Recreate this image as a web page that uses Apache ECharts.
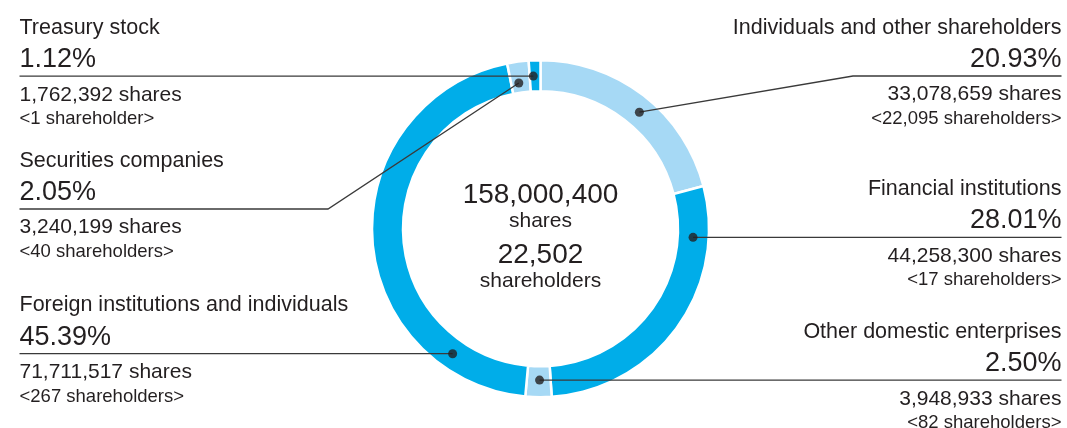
<!DOCTYPE html>
<html>
<head>
<meta charset="utf-8">
<script src="https://cdn.jsdelivr.net/npm/echarts@6/dist/echarts.min.js"></script>
<style>
  html, body { margin: 0; padding: 0; background: #fff; }
  #chart { width: 1067px; height: 428px; }
</style>
</head>
<body>
<div id="chart"></div>
<script>
// slices in drawing order, clockwise from 12 o'clock
var categories = ['Individuals and other shareholders', 'Financial institutions', 'Other domestic enterprises',
    'Foreign institutions and individuals', 'Securities companies', 'Treasury stock'];
var percents = [20.93, 28.01, 2.50, 45.39, 2.05, 1.12];
var shares = [33078659, 44258300, 3948933, 71711517, 3240199, 1762392];
var holders = [22095, 17, 82, 267, 40, 1];
var totalShares = '158,000,400';
var totalHolders = '22,502';

// where each leader line leaves the ring (percent of the circle, radius px) and where its label sits
var anchorPct = [11.2, 25.9, 50.1, 59.75, 97.65, 99.25];
var anchorR = [152.8, 152.8, 151.4, 152.8, 147.3, 152.8];
var labelSide = ['right', 'right', 'right', 'left', 'left', 'left'];
var elbows = [[853, 76], null, null, null, [328, 209], null];

var CX = 540.5, CY = 228.7, R_IN = 137.5, R_OUT = 168.5;
var LEFT_X = 19.5, RIGHT_X = 1061.5;
var DARK = '#00ade9', LIGHT = '#a6d9f5', INK = '#231f20';
var FONT = '"Helvetica Neue", Helvetica, Arial, "Liberation Sans", sans-serif';

function fmt(n) {
    return String(n).replace(/\B(?=(\d{3})+(?!\d))/g, ',');
}

function dotPos(i) {
    var a = anchorPct[i] / 100 * Math.PI * 2;
    return [CX + Math.sin(a) * anchorR[i], CY - Math.cos(a) * anchorR[i]];
}

// ring itself, no labels
var ringData = categories.map(function (name, i) {
    return { name: name, value: percents[i], itemStyle: { color: i % 2 === 0 ? LIGHT : DARK } };
});
// same slices again, invisible, only to carry labels + leader lines above the ring
var labelData = categories.map(function (name, i) {
    return { name: name, value: percents[i], label: { align: labelSide[i] } };
});

var chart = echarts.init(document.getElementById('chart'));
chart.setOption({
    animation: false,
    polar: { center: [CX, CY], radius: R_OUT },
    angleAxis: { type: 'value', min: 0, max: 100, startAngle: 90, show: false },
    radiusAxis: { type: 'value', min: 0, max: R_OUT, show: false },
    graphic: [
        { type: 'text', x: CX, y: 195, style: { text: totalShares, font: '28px ' + FONT, fill: INK, align: 'center', verticalAlign: 'middle' } },
        { type: 'text', x: CX, y: 221.5, style: { text: 'shares', font: '21px ' + FONT, fill: INK, align: 'center', verticalAlign: 'middle' } },
        { type: 'text', x: CX, y: 255, style: { text: totalHolders, font: '28px ' + FONT, fill: INK, align: 'center', verticalAlign: 'middle' } },
        { type: 'text', x: CX, y: 281.5, style: { text: 'shareholders', font: '21px ' + FONT, fill: INK, align: 'center', verticalAlign: 'middle' } }
    ],
    series: [{
        type: 'pie',
        center: [CX, CY],
        radius: [R_IN, R_OUT],
        startAngle: 90,
        clockwise: true,
        silent: true,
        z: 2,
        itemStyle: { borderColor: '#fff', borderWidth: 2.5 },
        label: { show: false },
        labelLine: { show: false },
        data: ringData
    }, {
        type: 'pie',
        center: [CX, CY],
        radius: [R_IN, R_OUT],
        startAngle: 90,
        clockwise: true,
        avoidLabelOverlap: false,
        silent: true,
        z: 4,
        itemStyle: { color: 'rgba(0,0,0,0)', borderWidth: 0 },
        label: {
            show: true,
            position: 'outside',
            color: INK,
            fontFamily: FONT,
            formatter: function (p) {
                var i = p.dataIndex;
                return '{n|' + categories[i] + '}\n{p|' + percents[i].toFixed(2) + '%}\n{s|' +
                    fmt(shares[i]) + ' shares}\n{h|<' + fmt(holders[i]) + ' shareholder' + (holders[i] === 1 ? '' : 's') + '>}';
            },
            rich: {
                n: { fontSize: 21.5, lineHeight: 31.8, color: INK, fontFamily: FONT },
                p: { fontSize: 27, lineHeight: 32, color: INK, fontFamily: FONT },
                s: { fontSize: 21, lineHeight: 38.2, color: INK, fontFamily: FONT },
                h: { fontSize: 18.5, lineHeight: 10, color: INK, fontFamily: FONT }
            }
        },
        labelLine: { show: true, showAbove: true, smooth: false, lineStyle: { color: '#3a3a3a', width: 1.3 } },
        labelLayout: function (p) {
            var i = p.dataIndex;
            var dot = dotPos(i);
            var elbow = elbows[i] || dot;
            var lineY = elbow[1];
            var endX = labelSide[i] === 'left' ? LEFT_X : RIGHT_X;
            return {
                x: endX,
                y: lineY - 64.2,
                align: labelSide[i],
                verticalAlign: 'top',
                labelLinePoints: [dot, elbow, [endX, lineY]]
            };
        },
        data: labelData
    }, {
        type: 'scatter',
        coordinateSystem: 'polar',
        symbolSize: 9,
        silent: true,
        itemStyle: { color: INK },
        z: 5,
        data: anchorPct.map(function (a, i) { return [anchorR[i], a]; })
    }]
});
</script>
</body>
</html>
